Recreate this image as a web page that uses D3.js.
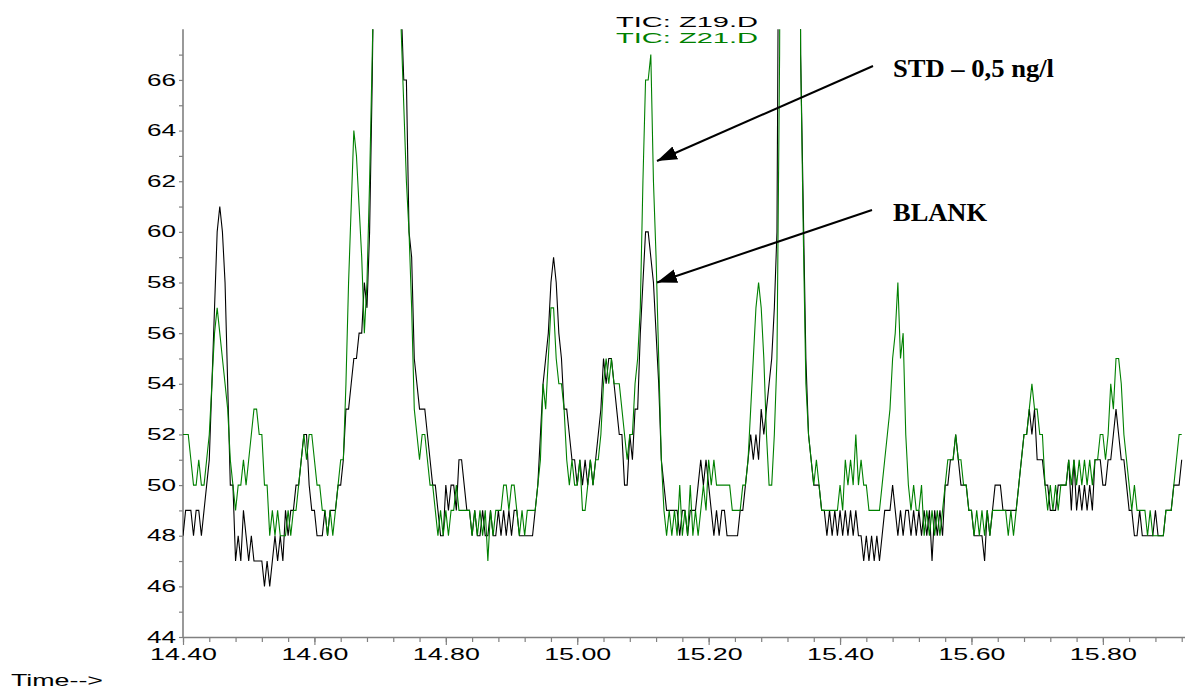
<!DOCTYPE html>
<html>
<head>
<meta charset="utf-8">
<script src="https://cdn.jsdelivr.net/npm/d3@7"></script>
<style>
  body { margin: 0; background: #fff; }
  svg { display: block; }
  text { font-family: "Liberation Sans", Arial, sans-serif; }
</style>
</head>
<body>
<div id="chart"></div>
<script>
// scan grid (minutes)
var startTime = 14.40
var scanStep = 0.004

// TIC: Z19.D (blank) - abundance per scan
var z19 = [
  48,49,49,49,48,49,49,48,49,50,51,54,57,60,61,60,58,54,50,50,
  47,48,47,49,48,47,48,47,47,47,47,46,47,46,47,48,47,48,47,49,
  48,49,49,50,50,51,52,52,50,49,49,48,48,48,49,48,49,49,49,50,
  50,51,53,53,54,55,55,56,56,58,57,60,66,74,82,90,95,96,92,86,
  80,76,72,69,66,66,60,59,55,54,53,53,53,52,51,50,50,49,48,48,
  50,49,50,50,49,51,51,50,49,49,48,49,48,48,49,48,48,49,48,48,
  49,48,49,48,49,48,49,49,48,48,48,48,48,48,49,50,52,54,55,56,
  58,59,58,56,55,53,53,52,51,51,50,51,50,51,50,51,50,51,52,53,
  55,54,55,55,54,53,52,52,50,50,52,51,53,53,56,58,60,60,59,58,
  56,54,51,50,49,49,49,49,49,48,49,49,48,49,49,49,50,51,50,51,
  50,49,48,49,48,49,49,48,48,48,48,48,49,49,50,51,52,51,52,51,
  53,52,53,54,55,57,60,80,110,130,150,160,150,130,100,67,61,55,52,51,
  50,50,50,49,49,48,49,48,49,48,49,48,49,48,49,48,49,48,48,47,
  48,47,48,47,48,47,48,49,49,49,50,49,48,49,48,49,49,48,49,48,
  49,48,49,48,49,47,49,48,49,48,50,50,51,51,52,51,50,50,50,49,
  49,48,48,48,48,47,49,48,49,50,50,50,49,49,49,49,49,49,50,51,
  52,52,53,52,53,51,51,51,50,50,49,49,49,50,50,50,50,51,49,51,
  49,50,49,50,49,50,49,51,51,51,50,50,51,51,52,53,52,51,51,50,
  49,49,48,48,49,48,48,48,48,48,49,48,48,48,49,49,49,50,50,50,51
]

// TIC: Z21.D (STD 0,5 ng/l)
var z21 = [
  52,52,52,51,50,50,51,50,50,51,52,54,56,57,56,55,54,53,51,50,
  49,50,50,51,50,51,52,53,53,52,52,50,50,48,49,48,49,48,48,48,
  49,48,49,49,50,51,52,51,52,52,51,50,50,49,49,48,49,48,49,50,
  51,51,54,58,61,64,63,61,59,56,58,62,67,72,78,84,88,90,86,80,
  80,76,72,68,65,62,60,57,53,52,51,52,52,51,50,50,49,48,49,48,
  49,48,49,49,50,49,49,49,49,49,48,49,48,49,48,49,47,49,48,49,
  49,49,50,50,49,50,50,49,48,49,48,49,49,49,49,50,51,54,53,55,
  57,57,55,54,54,53,51,50,51,50,50,51,49,49,50,51,50,51,51,52,
  54,55,54,55,54,54,54,53,52,51,52,52,54,55,57,62,66,66,67,62,
  59,55,51,49,48,49,48,49,48,50,48,49,48,50,48,49,48,49,50,49,
  51,50,51,50,50,50,50,50,50,49,49,49,49,50,50,51,53,55,57,58,
  57,55,52,50,50,52,55,67,95,120,140,150,140,120,95,67,60,54,52,51,
  50,51,50,49,49,49,49,49,49,49,50,49,51,50,51,50,52,50,51,50,
  50,49,49,49,49,49,50,51,52,53,55,56,58,55,56,52,50,49,50,49,
  49,50,48,49,48,49,48,49,48,49,50,51,51,51,52,51,51,50,50,49,
  49,48,49,48,49,48,49,48,49,49,49,49,49,49,48,49,48,49,50,51,
  52,52,53,54,53,53,52,52,50,49,50,49,50,49,50,50,50,51,50,51,
  50,51,50,51,50,51,50,51,51,52,52,51,52,54,53,55,55,54,52,51,
  50,49,50,49,49,49,49,48,49,48,48,48,48,48,49,49,49,50,51,52,52
]

var seriesNames = ["TIC: Z19.D", "TIC: Z21.D"]
var seriesColors = ["#000000", "#008000"]
var xMajorTicks = [14.40, 14.60, 14.80, 15.00, 15.20, 15.40, 15.60, 15.80]
var yLabelTicks = [44, 46, 48, 50, 52, 54, 56, 58, 60, 62, 64, 66]
var noteLabels = ["STD \u2013 0,5 ng/l", "BLANK"]
var noteTargets = [[15.1214, 62.8], [15.1214, 58.0]]

var width = 1185, height = 690

var svg = d3.select("#chart").append("svg")
    .attr("width", width)
    .attr("height", height)

var x = d3.scaleLinear().domain([14.40, 15.925]).range([183, 1185])
var y = d3.scaleLinear().domain([44, 68]).range([637, 29.3])

svg.append("defs").append("clipPath").attr("id", "plotclip")
    .append("rect")
    .attr("x", 183).attr("y", 29.3)
    .attr("width", 1185 - 183).attr("height", 637 - 29.3)

// y axis
var yAxis = svg.append("g")
    .attr("transform", "translate(183,0)")
    .call(d3.axisLeft(y)
        .tickValues(d3.range(44, 68, 1))
        .tickSize(4)
        .tickSizeOuter(0)
        .tickFormat(function(d) { return yLabelTicks.indexOf(d) >= 0 ? d : "" }))
yAxis.select(".domain").attr("stroke", "#808080").attr("stroke-width", 1.6)
    .attr("d", "M0," + y(68) + "V637")
yAxis.selectAll(".tick line").attr("stroke", "#808080").attr("stroke-width", 1.2)
yAxis.selectAll(".tick text")
    .attr("x", -7)
    .attr("fill", "#000")
    .style("font-size", "16px")
    .attr("textLength", 29)
    .attr("lengthAdjust", "spacingAndGlyphs")

// x axis - minor ticks
var xMinor = svg.append("g")
    .attr("transform", "translate(0,637)")
    .call(d3.axisBottom(x)
        .tickValues(d3.range(0, 39).map(function(k) { return 14.40 + k * 0.04 }))
        .tickSize(5)
        .tickSizeOuter(0)
        .tickFormat(""))
xMinor.select(".domain").attr("stroke", "#808080").attr("stroke-width", 1.6)
xMinor.selectAll(".tick line").attr("stroke", "#808080").attr("stroke-width", 1.2)

// x axis - labelled ticks
var xMajor = svg.append("g")
    .attr("transform", "translate(0,637)")
    .call(d3.axisBottom(x)
        .tickValues(xMajorTicks)
        .tickSize(8)
        .tickSizeOuter(0)
        .tickFormat(d3.format(".2f")))
xMajor.select(".domain").remove()
xMajor.selectAll(".tick line").attr("stroke", "#808080").attr("stroke-width", 1.2)
xMajor.selectAll(".tick text")
    .attr("y", 12)
    .attr("fill", "#000")
    .style("font-size", "16px")
    .attr("textLength", 67)
    .attr("lengthAdjust", "spacingAndGlyphs")

svg.append("text")
    .attr("x", 11).attr("y", 686)
    .style("font-size", "16px")
    .attr("textLength", 92)
    .attr("lengthAdjust", "spacingAndGlyphs")
    .text("Time-->")

// traces
var line = d3.line()
    .x(function(d, i) { return x(startTime + i * scanStep) })
    .y(function(d) { return y(d) })

var plot = svg.append("g").attr("clip-path", "url(#plotclip)")
;[z19, z21].forEach(function(s, k) {
    plot.append("path")
        .datum(s)
        .attr("fill", "none")
        .attr("stroke", seriesColors[k])
        .attr("stroke-width", 1.1)
        .attr("d", line)
})

// legend / title
seriesNames.forEach(function(name, k) {
    svg.append("text")
        .attr("x", 616).attr("y", 26.5 + k * 16)
        .attr("fill", seriesColors[k])
        .style("font-size", "14.5px")
        .attr("textLength", 142)
        .attr("lengthAdjust", "spacingAndGlyphs")
        .text(name)
})

// annotation arrows
svg.select("defs").append("marker")
    .attr("id", "head")
    .attr("markerUnits", "userSpaceOnUse")
    .attr("markerWidth", 22).attr("markerHeight", 16)
    .attr("refX", 20).attr("refY", 7)
    .attr("orient", "auto")
    .append("path")
    .attr("d", "M0,0L20,7L0,14Z")
    .attr("fill", "#000")

var noteStarts = [[873, 66], [872, 210]]
var noteText = [[893, 77], [893, 221]]
var noteWidths = [161, 94]
noteLabels.forEach(function(label, k) {
    svg.append("line")
        .attr("x1", noteStarts[k][0]).attr("y1", noteStarts[k][1])
        .attr("x2", x(noteTargets[k][0])).attr("y2", y(noteTargets[k][1]))
        .attr("stroke", "#000")
        .attr("stroke-width", 2)
        .attr("marker-end", "url(#head)")
    svg.append("text")
        .attr("x", noteText[k][0]).attr("y", noteText[k][1])
        .style("font-family", "'Liberation Serif', 'Times New Roman', serif")
        .style("font-weight", "bold")
        .style("font-size", "25px")
        .attr("textLength", noteWidths[k])
        .attr("lengthAdjust", "spacingAndGlyphs")
        .text(label)
})
</script>
</body>
</html>
